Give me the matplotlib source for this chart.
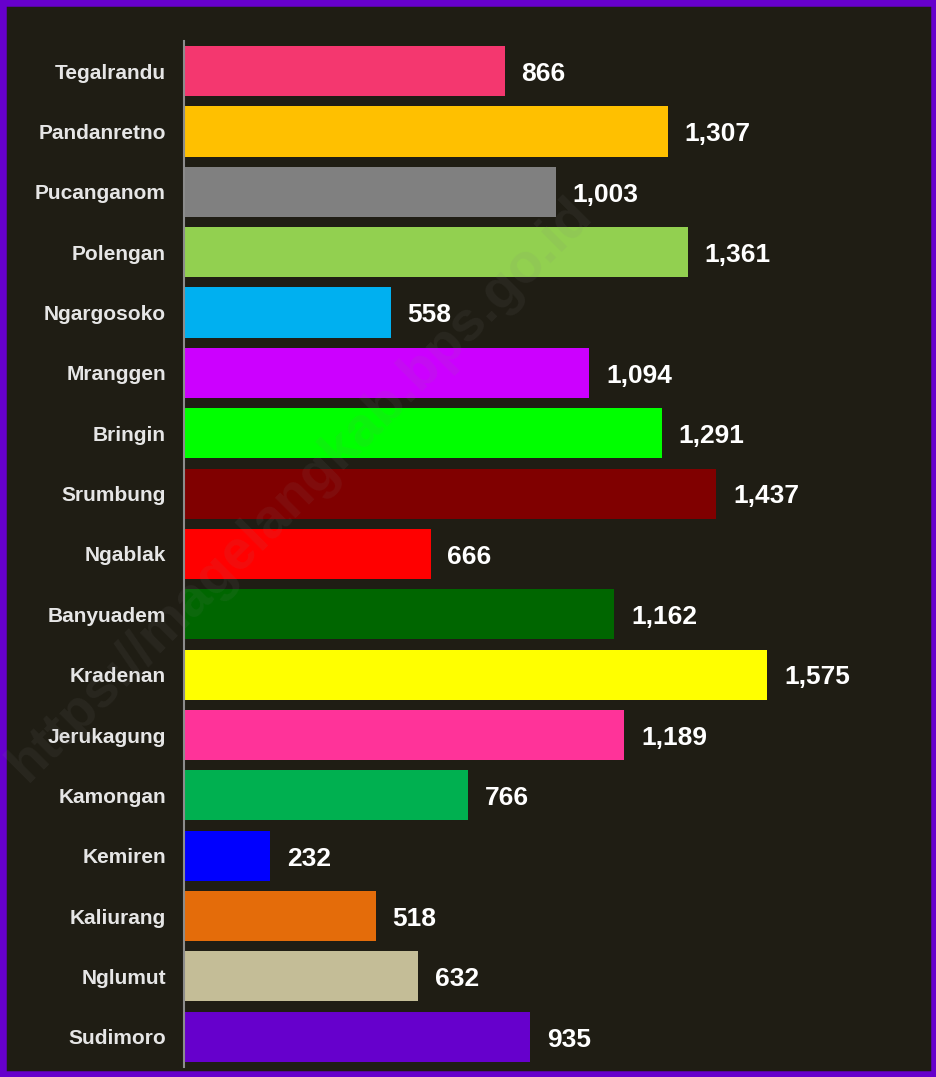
import matplotlib.pyplot as plt
from matplotlib.patches import Rectangle

plt.rcParams['font.family'] = ['Liberation Sans', 'DejaVu Sans']

desa = ["Tegalrandu", "Pandanretno", "Pucanganom", "Polengan", "Ngargosoko",
        "Mranggen", "Bringin", "Srumbung", "Ngablak", "Banyuadem", "Kradenan",
        "Jerukagung", "Kamongan", "Kemiren", "Kaliurang", "Nglumut", "Sudimoro"]
nilai = [866, 1307, 1003, 1361, 558, 1094, 1291, 1437, 666, 1162, 1575,
         1189, 766, 232, 518, 632, 935]
warna = ["#F4376F", "#FFC000", "#808080", "#92D050", "#00B0F0", "#CC00FF",
         "#00FF00", "#800000", "#FF0000", "#006600", "#FFFF00", "#FF3399",
         "#00B050", "#0000FF", "#E46C0A", "#C4BD97", "#6600CC"]

bg = "#1f1d14"
fig = plt.figure(figsize=(9.37, 10.77), dpi=100, facecolor=bg)

# bingkai ungu di sekeliling gambar
fig.patches.append(Rectangle((0, 0), 1, 1, transform=fig.transFigure,
                             fill=False, edgecolor="#6600CC", linewidth=9))

ax = fig.add_axes([0.1964, 0.0093, 0.7906, 0.9527])
ax.set_facecolor(bg)

y = list(range(len(desa)))
ax.barh(y, nilai, height=0.83, color=warna)

for i, v in enumerate(nilai):
    ax.annotate(f"{v:,}", (v, i), xytext=(12, -2), textcoords="offset points",
                ha="left", va="center", color="white", fontsize=19,
                fontweight="bold")

ax.set_xlim(0, 2000)
ax.set_ylim(len(desa) - 0.5, -0.5)
ax.set_yticks(y)
ax.set_yticklabels(desa, color="#e6e6e6", fontsize=15, fontweight="bold")
ax.tick_params(axis="y", length=0, pad=13)
ax.set_xticks([])
for s in ["top", "right", "bottom"]:
    ax.spines[s].set_visible(False)
ax.spines["left"].set_color("#8c8c8c")
ax.spines["left"].set_linewidth(1.5)

# watermark miring
fig.text(0.32, 0.545, "https://magelangkab.bps.go.id", rotation=45,
         ha="center", va="center", fontsize=40, fontweight="bold",
         color="#808080", alpha=0.1)

fig.savefig("out.png", facecolor=bg)
